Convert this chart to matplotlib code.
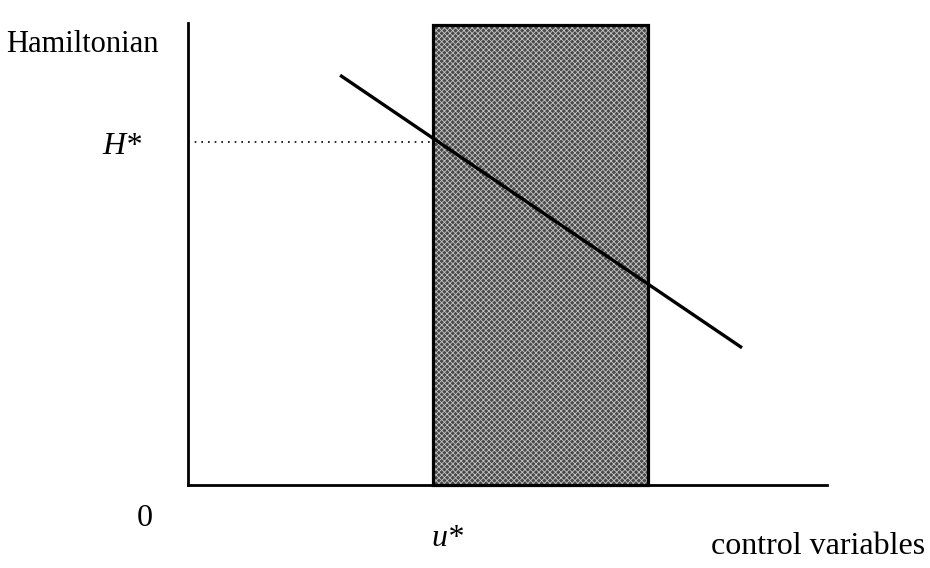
import matplotlib
matplotlib.use("Agg")
import matplotlib.pyplot as plt

# control region (shaded) on the control-variable axis
u_region = [3.83, 7.20]
region_top = 9.96

# Hamiltonian as a function of the control (straight line)
line_u = [2.38, 8.67]
line_h = [8.87, 2.97]

u_star = 3.83
h_star = 7.42

W, H = 930, 568
fig = plt.figure(figsize=(W / 100, H / 100), dpi=100)
ax = fig.add_axes([188 / W, (H - 485) / H, (827 - 188) / W, (485 - 23) / H])
ax.set_xlim(0, 10)
ax.set_ylim(0, 10)

plt.rcParams["hatch.linewidth"] = 0.6

# shaded admissible region: hatched fill, then black border on top
ax.bar(u_region[0], region_top, width=u_region[1] - u_region[0], align="edge",
       color="#4a4a4a", edgecolor="#c4c4c4", hatch="xxxxxx", linewidth=0,
       zorder=1, clip_on=False)
ax.bar(u_region[0], region_top, width=u_region[1] - u_region[0], align="edge",
       fill=False, edgecolor="black", linewidth=2.3, zorder=2, clip_on=False)

ax.plot(line_u, line_h, color="black", linewidth=2.4, zorder=3,
        solid_capstyle="butt")
ax.plot([0, u_star], [h_star, h_star], color="black", linestyle=(0, (1, 3)),
        linewidth=1.2, zorder=3)

for side in ["top", "right"]:
    ax.spines[side].set_visible(False)
ax.spines["left"].set_linewidth(2.0)
ax.spines["bottom"].set_linewidth(2.0)
ax.set_xticks([])
ax.set_yticks([])
ax.patch.set_alpha(0)

font = dict(family="Liberation Serif", color="black")
fig.text(6 / W, 1 - 44 / H, "Hamiltonian", ha="left", va="center",
         fontsize=22, **font)
fig.text(141 / W, 1 - 146 / H, "H*", ha="right", va="center",
         style="italic", fontsize=23, **font)
fig.text(145 / W, 1 - 518 / H, "0", ha="center", va="center",
         fontsize=23, **font)
fig.text(447 / W, 1 - 538 / H, "u*", ha="center", va="center",
         style="italic", fontsize=23, **font)
fig.text(925 / W, 1 - 546 / H, "control variables", ha="right", va="center",
         fontsize=23, **font)

fig.savefig("out.png", dpi=100)
